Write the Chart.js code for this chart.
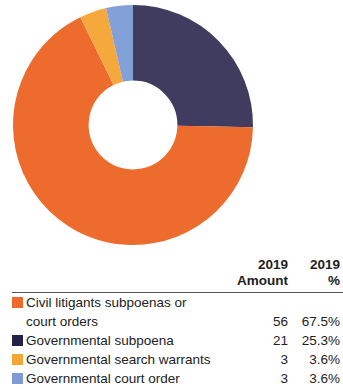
<!DOCTYPE html>
<html>
<head>
<meta charset="utf-8">
<script src="https://cdn.jsdelivr.net/npm/chart.js@4"></script>
<style>
  body { margin: 0; width: 343px; height: 389px; background: #fff; font-family: "Liberation Sans", Arial, sans-serif; color: #222; position: relative; overflow: hidden; }
  #chartWrap { position: absolute; left: 0; top: 0; width: 266px; height: 250px; }
  #tbl { position: absolute; left: 12px; top: 257px; width: 331px; border-collapse: collapse; font-size: 13.5px; }
  #tbl th { font-weight: bold; text-align: right; line-height: 16px; padding: 0 3px 3px 0; vertical-align: bottom; }
  #tbl th.amt { padding-right: 0; }
  #tbl thead tr { border-bottom: 1.5px solid #555; }
  #tbl td { line-height: 19px; padding: 0; vertical-align: bottom; }
  #tbl td.num { text-align: right; padding-right: 3px; }
  #tbl td.amt { padding-right: 0; }
  .sw { display: inline-block; width: 11px; height: 11px; margin-right: 3px; vertical-align: -1px; }
  .lbl { padding-left: 14px !important; text-indent: -14px; }
</style>
</head>
<body>
<div id="chartWrap"><canvas id="pie"></canvas></div>
<table id="tbl">
  <thead><tr><th></th><th class="amt" style="width:60px">2019<br>Amount</th><th style="width:52px">2019<br>%</th></tr></thead>
  <tbody id="rows"></tbody>
</table>
<script>
const categories = ["Civil litigants subpoenas or court orders", "Governmental subpoena", "Governmental search warrants", "Governmental court order"];
const amounts = [56, 21, 3, 3];
const percents = ["67.5%", "25.3%", "3.6%", "3.6%"];
const swatchColors = ["#ee6a2b", "#23234a", "#f6a632", "#7f9bd6"];
const sliceColors = ["#ec6b2d", "#403c5f", "#f5a83c", "#84a0d8"];
// clockwise from the top: subpoena, civil, search warrants, court order
const drawOrder = [1, 0, 2, 3];

const rows = document.getElementById("rows");
categories.forEach((cat, i) => {
  const tr = document.createElement("tr");
  const label = i === 0 ? "Civil litigants subpoenas or<br>court orders" : cat;
  tr.innerHTML = `<td class="lbl"><span class="sw" style="background:${swatchColors[i]}"></span>${label}</td>` +
    `<td class="num amt">${amounts[i]}</td><td class="num">${percents[i]}</td>`;
  rows.appendChild(tr);
});

new Chart(document.getElementById("pie").getContext("2d"), {
  type: "doughnut",
  data: {
    labels: drawOrder.map(i => categories[i]),
    datasets: [{
      data: drawOrder.map(i => amounts[i]),
      backgroundColor: drawOrder.map(i => sliceColors[i]),
      borderWidth: 0,
    }],
  },
  options: {
    responsive: true,
    maintainAspectRatio: false,
    animation: false,
    cutout: "37%",
    layout: { padding: 5 },
    plugins: { legend: { display: false }, tooltip: { enabled: false } },
  },
});
</script>
</body>
</html>
